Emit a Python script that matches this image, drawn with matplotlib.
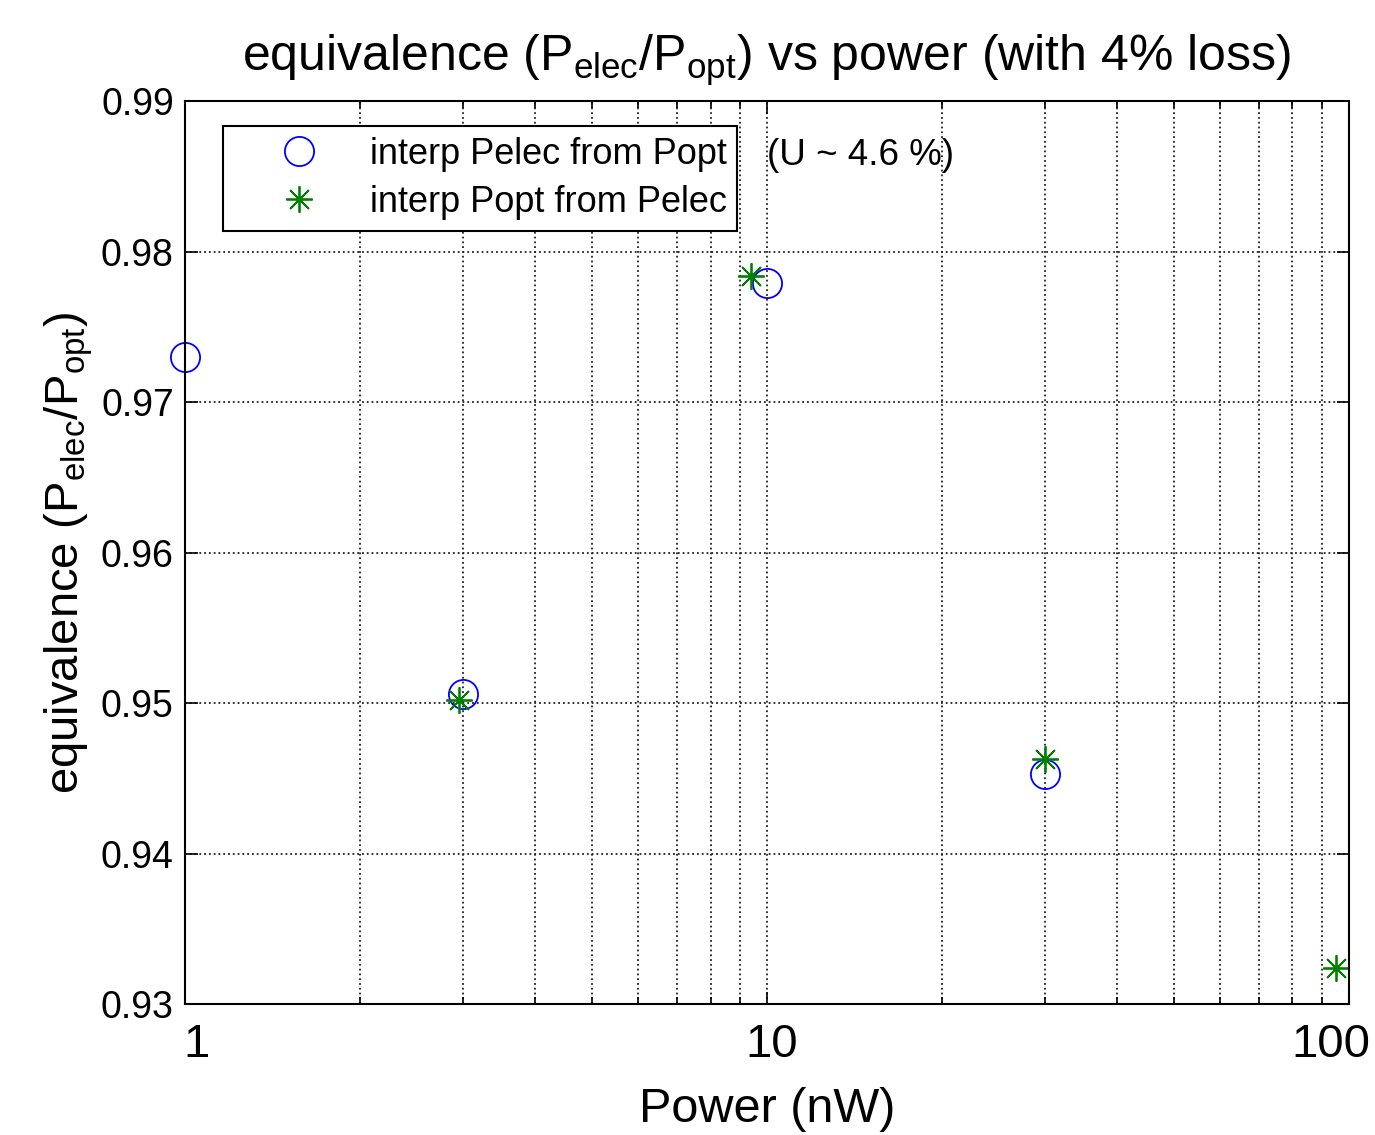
import matplotlib
matplotlib.use("Agg")
import matplotlib.pyplot as plt
import matplotlib.transforms as mtrans
import numpy as np
from matplotlib.ticker import FixedLocator, NullFormatter

plt.rcParams['font.family'] = ['Liberation Sans', 'DejaVu Sans']
plt.rcParams['mathtext.fontset'] = 'custom'
plt.rcParams['mathtext.rm'] = 'Liberation Sans'
plt.rcParams['mathtext.it'] = 'Liberation Sans'
plt.rcParams['mathtext.default'] = 'rm'

# interp Pelec from Popt
p_circ = [1.0, 3.0, 10.0, 30.0]
eq_circ = [0.9730, 0.9506, 0.9779, 0.9453]

# interp Popt from Pelec
p_star = [2.96, 9.39, 30.0, 95.0]
eq_star = [0.9502, 0.9784, 0.9463, 0.9324]

fig = plt.figure(figsize=(13.75, 11.35), dpi=100)
ax = fig.add_axes([0.1345, 0.1154, 0.8465, 0.7956])

ax.plot(p_circ, eq_circ, 'o', mfc='none', mec='#0000ff', ms=21, mew=1.3,
        label='interp Pelec from Popt', clip_on=False)
ax.plot(p_star, eq_star, marker=(8, 2, 0), ls='none', color='#008000', ms=19,
        mew=1.3, label='interp Popt from Pelec', clip_on=False)

ax.set_xscale('log')
ax.set_xlim(1, 100)
ax.set_ylim(0.93, 0.99)
ax.set_xticks([1, 10, 100])
ax.set_xticklabels(['1', '10', '100'])
ax.xaxis.set_minor_locator(FixedLocator([k * 10 ** e for e in range(0, 2) for k in range(2, 10)]))
ax.xaxis.set_minor_formatter(NullFormatter())
ax.set_yticks([0.93, 0.94, 0.95, 0.96, 0.97, 0.98, 0.99])
ax.set_yticklabels(['0.93', '0.94', '0.95', '0.96', '0.97', '0.98', '0.99'])

ax.tick_params(axis='x', which='major', labelsize=34, pad=14)
ax.tick_params(axis='y', which='major', labelsize=27, pad=8)
ax.tick_params(which='both', direction='in', top=True, right=True)
ax.tick_params(which='major', length=9, width=1.2)
ax.tick_params(which='minor', length=5, width=1.2)

# matlab-ish offset of the x tick labels
shifts = [12, 5, -18]
for lab, dx in zip(ax.get_xticklabels(), shifts):
    lab.set_transform(lab.get_transform() + mtrans.ScaledTranslation(dx / 100, 0, fig.dpi_scale_trans))

ax.grid(True, which='major', ls=':', color='#222222', lw=1.3)
ax.grid(True, which='minor', axis='x', ls=':', color='#222222', lw=1.3)
for s in ax.spines.values():
    s.set_linewidth(1.5)

ax.set_xlabel('Power (nW)', fontsize=35, labelpad=14)
ax.set_ylabel(r'equivalence (P$_{elec}$/P$_{opt}$)', fontsize=34, labelpad=4)
ax.set_title(r'equivalence (P$_{elec}$/P$_{opt}$) vs power (with 4% loss)',
             fontsize=36, pad=22)

leg = ax.legend(loc='upper left', bbox_to_anchor=(0.033, 0.972), fontsize=26,
                fancybox=False, framealpha=1, edgecolor='black',
                borderpad=0.3, handletextpad=0.15, handlelength=3.6,
                borderaxespad=0, labelspacing=0.35)
leg.get_frame().set_linewidth(1.5)

ax.text(0.5, 0.94, '(U ~ 4.6 %)', transform=ax.transAxes, fontsize=26.5,
        va='center', ha='left')

fig.savefig('out.png', dpi=100)
